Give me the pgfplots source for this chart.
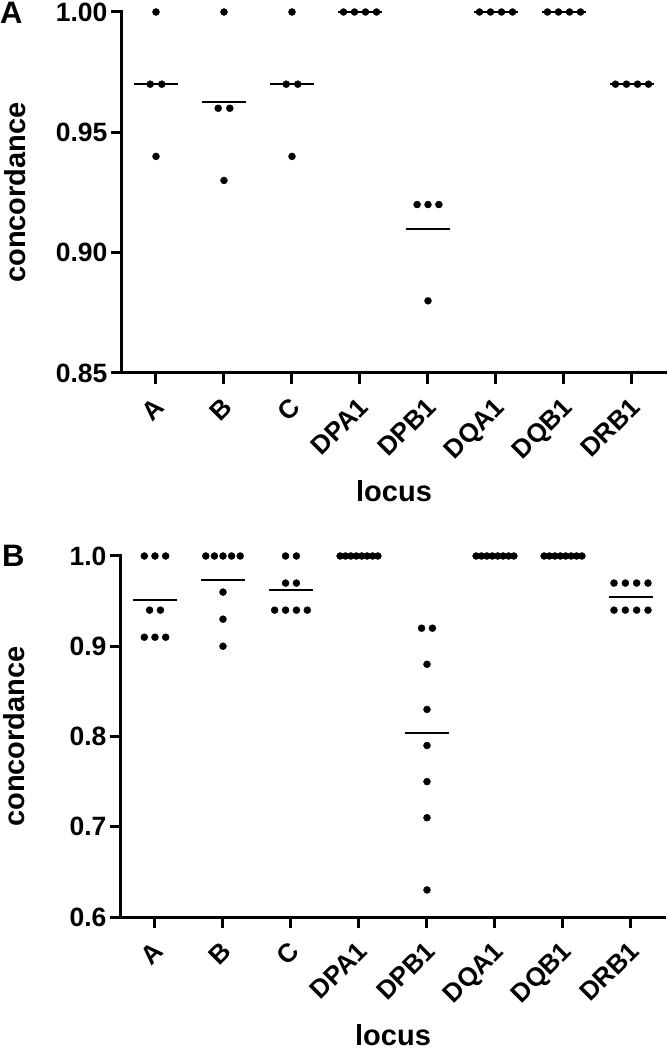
\documentclass[border=0pt]{standalone}
\usepackage{pgfplots}
\pgfplotsset{compat=1.18}
\usepackage{fontspec}
\setmainfont{Liberation Sans}

\pgfplotsset{
  myaxis/.style={
    scale only axis, width=544pt, height=361pt,
    xmin=-0.5, xmax=7.5,
    axis x line*=bottom, axis y line*=left,
    axis line style={line width=3pt, line cap=rect},
    tick align=outside,
    major tick length=11pt,
    tick style={black, line width=3pt},
    xtick={0,1,2,3,4,5,6,7},
    xticklabels={A,B,C,DPA1,DPB1,DQA1,DQB1,DRB1},
    xticklabel style={xshift=-3pt, yshift=-12pt, rotate=45, anchor=north east, inner sep=0pt,
      font=\fontsize{26}{30}\selectfont\bfseries},
    yticklabel style={font=\fontsize{26.5}{30}\selectfont\bfseries,
      /pgf/number format/fixed, /pgf/number format/fixed zerofill,
      /pgf/number format/assume math mode=true},
    xlabel={locus},
    xlabel style={at={(axis description cs:0.5,-0.355)}, anchor=base, inner sep=0pt,
      font=\fontsize{29}{34}\selectfont\bfseries},
    ylabel={concordance},
    ylabel style={at={(axis description cs:-0.178,0.5)}, anchor=base, inner sep=0pt,
      font=\fontsize{29}{34}\selectfont\bfseries},
    clip=false,
  },
  dots/.style={only marks, mark=*, mark size=3.5pt, black},
  means/.style={black, line width=2pt, mark=none, unbounded coords=jump},
}

\begin{document}
\begin{tikzpicture}
\useasboundingbox (0,0) rectangle (667pt,1050pt);

% Panel A
\begin{axis}[myaxis, at={(122pt,677pt)}, anchor=south west,
  ymin=0.85, ymax=1.0, ytick={0.85,0.90,0.95,1.00},
  yticklabel style={/pgf/number format/precision=2}]
\addplot[dots] coordinates {
  (0,1.00) (-0.085,0.97) (0.085,0.97) (0,0.94)
  (1,1.00) (0.915,0.96) (1.085,0.96) (1,0.93)
  (2,1.00) (1.915,0.97) (2.085,0.97) (2,0.94)
  (2.757,1) (2.919,1) (3.081,1) (3.243,1)
  (3.84,0.92) (4,0.92) (4.16,0.92) (4,0.88)
  (4.757,1) (4.919,1) (5.081,1) (5.243,1)
  (5.757,1) (5.919,1) (6.081,1) (6.243,1)
  (6.757,0.97) (6.919,0.97) (7.081,0.97) (7.243,0.97)
};
\addplot[means] coordinates {
  (-0.33,0.97) (0.33,0.97) (0.5,nan)
  (0.67,0.9625) (1.33,0.9625) (1.5,nan)
  (1.67,0.97) (2.33,0.97) (2.5,nan)
  (2.67,1.0) (3.33,1.0) (3.5,nan)
  (3.67,0.91) (4.33,0.91) (4.5,nan)
  (4.67,1.0) (5.33,1.0) (5.5,nan)
  (5.67,1.0) (6.33,1.0) (6.5,nan)
  (6.67,0.97) (7.33,0.97)
};
\end{axis}

% Panel B
\begin{axis}[myaxis, at={(121pt,133pt)}, anchor=south west,
  ymin=0.6, ymax=1.0, ytick={0.6,0.7,0.8,0.9,1.0},
  yticklabel style={/pgf/number format/precision=1}]
\addplot[dots] coordinates {
  (-0.157,1) (0,1) (0.157,1) (-0.08,0.94) (0.08,0.94) (-0.157,0.91) (0,0.91) (0.157,0.91)
  (0.747,1) (0.874,1) (1,1) (1.126,1) (1.253,1) (1,0.96) (1,0.93) (1,0.90)
  (1.92,1) (2.08,1) (1.92,0.97) (2.08,0.97) (1.76,0.94) (1.92,0.94) (2.08,0.94) (2.24,0.94)
  (2.722,1) (2.801,1) (2.881,1) (2.96,1) (3.04,1) (3.119,1) (3.199,1) (3.278,1)
  (3.92,0.92) (4.08,0.92) (4,0.88) (4,0.83) (4,0.79) (4,0.75) (4,0.71) (4,0.63)
  (4.722,1) (4.801,1) (4.881,1) (4.96,1) (5.04,1) (5.119,1) (5.199,1) (5.278,1)
  (5.722,1) (5.801,1) (5.881,1) (5.96,1) (6.04,1) (6.119,1) (6.199,1) (6.278,1)
  (6.75,0.97) (6.917,0.97) (7.083,0.97) (7.25,0.97) (6.75,0.94) (6.917,0.94) (7.083,0.94) (7.25,0.94)
};
\addplot[means] coordinates {
  (-0.33,0.95125) (0.33,0.95125) (0.5,nan)
  (0.67,0.97375) (1.33,0.97375) (1.5,nan)
  (1.67,0.9625) (2.33,0.9625) (2.5,nan)
  (2.67,1.0) (3.33,1.0) (3.5,nan)
  (3.67,0.80375) (4.33,0.80375) (4.5,nan)
  (4.67,1.0) (5.33,1.0) (5.5,nan)
  (5.67,1.0) (6.33,1.0) (6.5,nan)
  (6.67,0.955) (7.33,0.955)
};
\end{axis}

\node[anchor=base west, inner sep=0pt, font=\fontsize{31}{36}\selectfont\bfseries] at (0pt,1026pt) {A};
\node[anchor=base west, inner sep=0pt, font=\fontsize{31}{36}\selectfont\bfseries] at (2pt,483pt) {B};
\end{tikzpicture}
\end{document}
